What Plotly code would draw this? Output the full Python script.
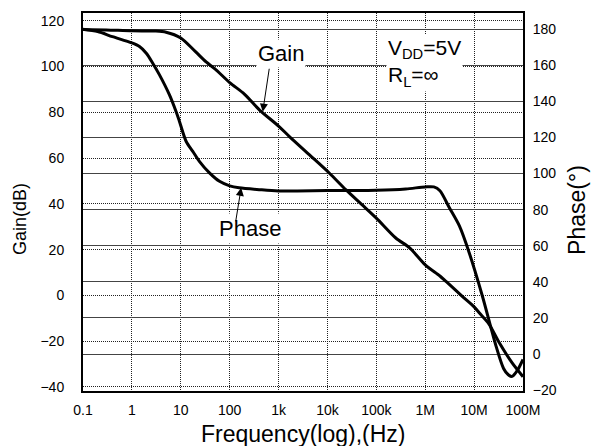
import plotly.graph_objects as go

# ---- data ----
freq_ticks = [0.1, 1, 10, 100, 1e3, 1e4, 1e5, 1e6, 1e7, 1e8]
freq_ticktext = ["0.1", "1", "10", "100", "1k", "10k", "100k", "1M", "10M", "100M"]
gain_ticks = [-40, -20, 0, 20, 40, 60, 80, 100, 120]
phase_ticks = [-20, 0, 20, 40, 60, 80, 100, 120, 140, 160, 180]

gain_freq = [0.1, 0.3, 1, 3, 5, 10, 20, 33, 50, 100, 200, 410, 1e3, 1.67e3, 4.3e3,
             1.1e4, 2.4e4, 5e4, 1e5, 2.5e5, 4.8e5, 1e6, 2e6, 2.7e6, 5.8e6, 1e7,
             1.3e7, 2e7, 3.3e7, 6e7, 1e8]
gain_db = [116.2, 116.0, 115.6, 115.5, 115.0, 112.5, 106.5, 102.0, 99.0, 93.0, 88.0,
           81.0, 74.0, 69.4, 61.4, 53.4, 46.1, 39.8, 33.8, 25.1, 20.8, 13.4, 8.5,
           6.0, -0.5, -5.0, -7.8, -12.4, -20.8, -29.5, -35.5]

phase_freq = [0.1, 0.2, 0.4, 1, 1.43, 1.97, 2.67, 3.67, 5.87, 8, 9.4, 12.9, 17.6, 24,
              38.6, 62, 100, 156, 400, 1e3, 1e4, 1e5, 4e5, 1e6, 1.5e6, 2e6, 3.1e6,
              5e6, 7.9e6, 1.48e7, 2.8e7, 4e7, 5e7, 6e7, 7.5e7, 1e8]
phase_deg = [180, 178.7, 175.9, 172.4, 170.4, 166.7, 161.2, 154.7, 143.6, 134.4,
             128.9, 117.8, 112.3, 106.8, 100.4, 95.7, 93.2, 92.1, 91.1, 90.4, 90.6,
             90.8, 91.5, 92.6, 92.6, 90.5, 81.2, 71.0, 56.3, 32.0, 4.5, -8.0, -11.5,
             -12.4, -9.5, -3.0]

FONT = "Liberation Sans, Arial, Helvetica, sans-serif"

fig = go.Figure()
fig.add_trace(go.Scatter(x=gain_freq, y=gain_db, mode="lines", name="Gain",
                         line=dict(color="black", width=3, shape="spline", smoothing=0.8),
                         yaxis="y"))
fig.add_trace(go.Scatter(x=phase_freq, y=phase_deg, mode="lines", name="Phase",
                         line=dict(color="black", width=3, shape="spline", smoothing=0.8),
                         yaxis="y2"))

# the page body keeps the browser's 8px margin, so the figure is sized to fit inside it
fig.update_layout(
    width=592, height=438, autosize=False,
    margin=dict(l=75, r=77, t=5, b=55, pad=0, autoexpand=False),
    paper_bgcolor="white", plot_bgcolor="white",
    showlegend=False,
    font=dict(family=FONT, size=14, color="black"),
    xaxis=dict(type="log", range=[-1, 8], tickvals=freq_ticks, ticktext=freq_ticktext,
               showgrid=True, gridcolor="#222", griddash="1px,1px", gridwidth=1,
               showline=True, linecolor="black", linewidth=2, mirror=True,
               ticks="", ticklabelstandoff=5, zeroline=False, automargin=False,
               tickfont=dict(size=14)),
    yaxis=dict(range=[-41.75, 123.4], tickvals=gain_ticks,
               showgrid=True, gridcolor="#222", griddash="1px,1px", gridwidth=1,
               showline=True, linecolor="black", linewidth=2,
               ticks="", ticklabelstandoff=14, zeroline=False, automargin=False,
               tickfont=dict(size=14)),
    yaxis2=dict(range=[-20.5, 189], tickvals=phase_ticks, overlaying="y", side="right",
                showgrid=True, gridcolor="#444", gridwidth=1,
                showline=True, linecolor="black", linewidth=2,
                ticks="", ticklabelstandoff=5, zeroline=False, automargin=False,
                tickfont=dict(size=14)),
)

ann = [
    # axis titles
    dict(text="Gain(dB)", xref="paper", yref="paper", x=0, y=0.455, xshift=-63,
         xanchor="center", yanchor="middle",
         textangle=-90, showarrow=False, font=dict(size=18)),
    dict(text="Phase(°)", xref="paper", yref="paper", x=1, y=0.479, xshift=54,
         xanchor="center", yanchor="middle",
         textangle=-90, showarrow=False, font=dict(size=23)),
    dict(text="Frequency(log),(Hz)", xref="paper", yref="paper", x=0.5, y=0,
         yshift=-43, xanchor="center", yanchor="middle",
         showarrow=False, font=dict(size=23)),
    # curve labels
    dict(text="Gain", xref="x", yref="y", x=3.053, y=105.6, showarrow=False,
         xanchor="center", yanchor="middle",
         font=dict(size=22), bgcolor="white", borderpad=1),
    dict(text="Phase", xref="x", yref="y", x=2.415, y=29.1, showarrow=False,
         xanchor="center", yanchor="middle",
         font=dict(size=22), bgcolor="white", borderpad=2),
    dict(text="V<sub>DD</sub>=5V<br>R<sub>L</sub>=∞", xref="x", yref="y", x=5.2, y=101.5,
         xanchor="left", yanchor="middle", align="left", showarrow=False,
         font=dict(size=21), bgcolor="white", borderpad=1),
    # arrows
    dict(text="", xref="x", yref="y", x=2.677, y=80.3, ax=6.7, ay=-44.4,
         showarrow=True, arrowhead=2, arrowsize=1.6, arrowwidth=1, arrowcolor="black",
         standoff=0),
    dict(text="", xref="x", yref="y2", x=2.235, y=92.1, ax=-5.7, ay=35,
         showarrow=True, arrowhead=2, arrowsize=1.6, arrowwidth=1, arrowcolor="black",
         standoff=0),
]
fig.update_layout(annotations=ann)

fig.write_html("out.html")
